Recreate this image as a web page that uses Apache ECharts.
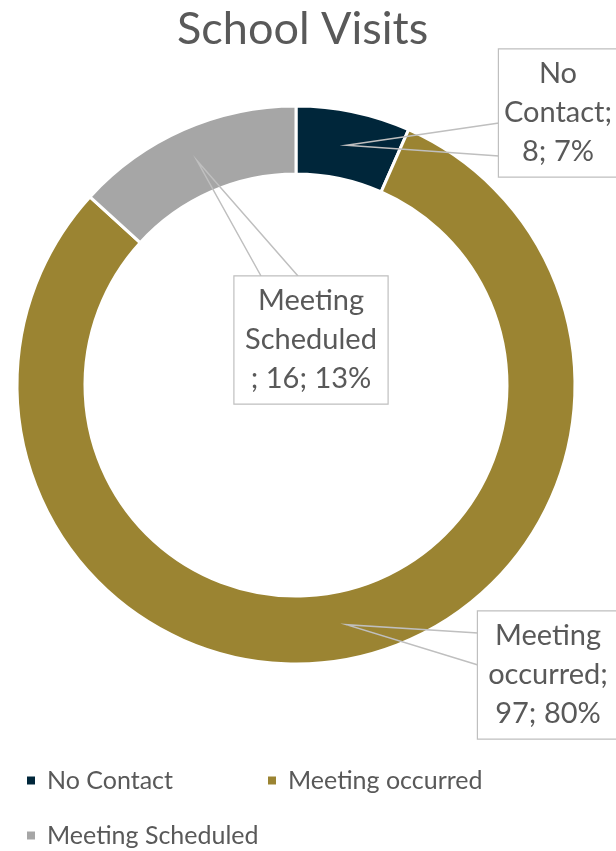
<!DOCTYPE html>
<html>
<head>
<meta charset="utf-8">
<script src="https://cdn.jsdelivr.net/npm/echarts@6/dist/echarts.min.js"></script>
<style>
html,body{margin:0;padding:0;background:#fff;}
#chart{width:616px;height:851px;}
</style>
</head>
<body>
<div id="chart"></div>
<script>
// ---- data ----
const categories = ['No Contact', 'Meeting occurred', 'Meeting Scheduled'];
const visits = [8, 97, 16];
const title = 'School Visits';

// ---- styling / layout (not data) ----
const colors = ['#00263A', '#9B8432', '#A6A6A6'];
const textColor = '#595959';
const fontFamily = 'Lato, "Open Sans", sans-serif';
const center = [296, 385];
const radii = [211, 279];
// callout boxes: centre, width, and wedge attach points on box edge
const callouts = [
  { cx: 558, cy: 113, w: 118, a: [499, 123], b: [499, 156], semiBreak: false },
  { cx: 548, cy: 675, w: 140, a: [478, 633], b: [478, 665], semiBreak: false },
  { cx: 311, cy: 340, w: 153, a: [261, 276], b: [298, 276], semiBreak: true }
];

const chart = echarts.init(document.getElementById('chart'), null, { renderer: 'canvas' });

const baseData = categories.map((name, i) => ({
  name: name,
  value: visits[i],
  itemStyle: { color: colors[i] }
}));
const labelData = categories.map((name, i) => ({
  name: name,
  value: visits[i],
  label: { width: callouts[i].w }
}));

const option = {
  animation: false,
  title: {
    text: title,
    left: 172,
    top: 2,
    textStyle: { color: textColor, fontSize: 45, fontWeight: 'normal', fontFamily: fontFamily }
  },
  legend: {
    data: categories,
    left: 20,
    top: 758,
    orient: 'horizontal',
    icon: 'rect',
    itemWidth: 10,
    itemHeight: 10,
    itemGap: 20,
    textStyle: {
      color: textColor, fontSize: 25, fontFamily: fontFamily,
      width: 199, lineHeight: 35, padding: [0, 0, 0, 6]
    }
  },
  series: [{
    type: 'pie',
    z: 2,
    center: center,
    radius: radii,
    startAngle: 90,
    clockwise: true,
    avoidLabelOverlap: false,
    itemStyle: { borderColor: '#ffffff', borderWidth: 3 },
    label: { show: false },
    labelLine: { show: false },
    data: baseData
  }, {
    type: 'pie',
    z: 3,
    silent: true,
    legendHoverLink: false,
    center: center,
    radius: radii,
    startAngle: 90,
    clockwise: true,
    percentPrecision: 0,
    avoidLabelOverlap: false,
    itemStyle: { color: 'rgba(0,0,0,0)', borderWidth: 0 },
    emphasis: { disabled: true },
    label: {
      show: true,
      position: 'outside',
      color: textColor,
      fontSize: 29,
      lineHeight: 39,
      fontFamily: fontFamily,
      align: 'center',
      backgroundColor: '#ffffff',
      borderColor: '#BFBFBF',
      borderWidth: 1.2,
      padding: [7, 0, 3, 0],
      formatter: function (p) {
        const words = p.name.split(' ');
        const c = callouts[p.dataIndex];
        const tail = p.value + '; ' + p.percent + '%';
        if (c.semiBreak) return words.join('\n') + '\n; ' + tail;
        return words.join('\n') + ';\n' + tail;
      }
    },
    labelLine: {
      show: true,
      length: 10,
      length2: 10,
      smooth: false,
      lineStyle: { color: '#BFBFBF', width: 1.5 }
    },
    labelLayout: function (params) {
      const c = callouts[params.dataIndex];
      const pts = params.labelLinePoints;
      const k = ((radii[0] + radii[1]) / 2) / radii[1];
      const anchor = [center[0] + (pts[0][0] - center[0]) * k, center[1] + (pts[0][1] - center[1]) * k];
      return {
        x: c.cx,
        y: c.cy,
        align: 'center',
        verticalAlign: 'middle',
        labelLinePoints: [c.a, anchor, c.b]
      };
    },
    data: labelData
  }]
};

chart.setOption(option);
</script>
</body>
</html>
